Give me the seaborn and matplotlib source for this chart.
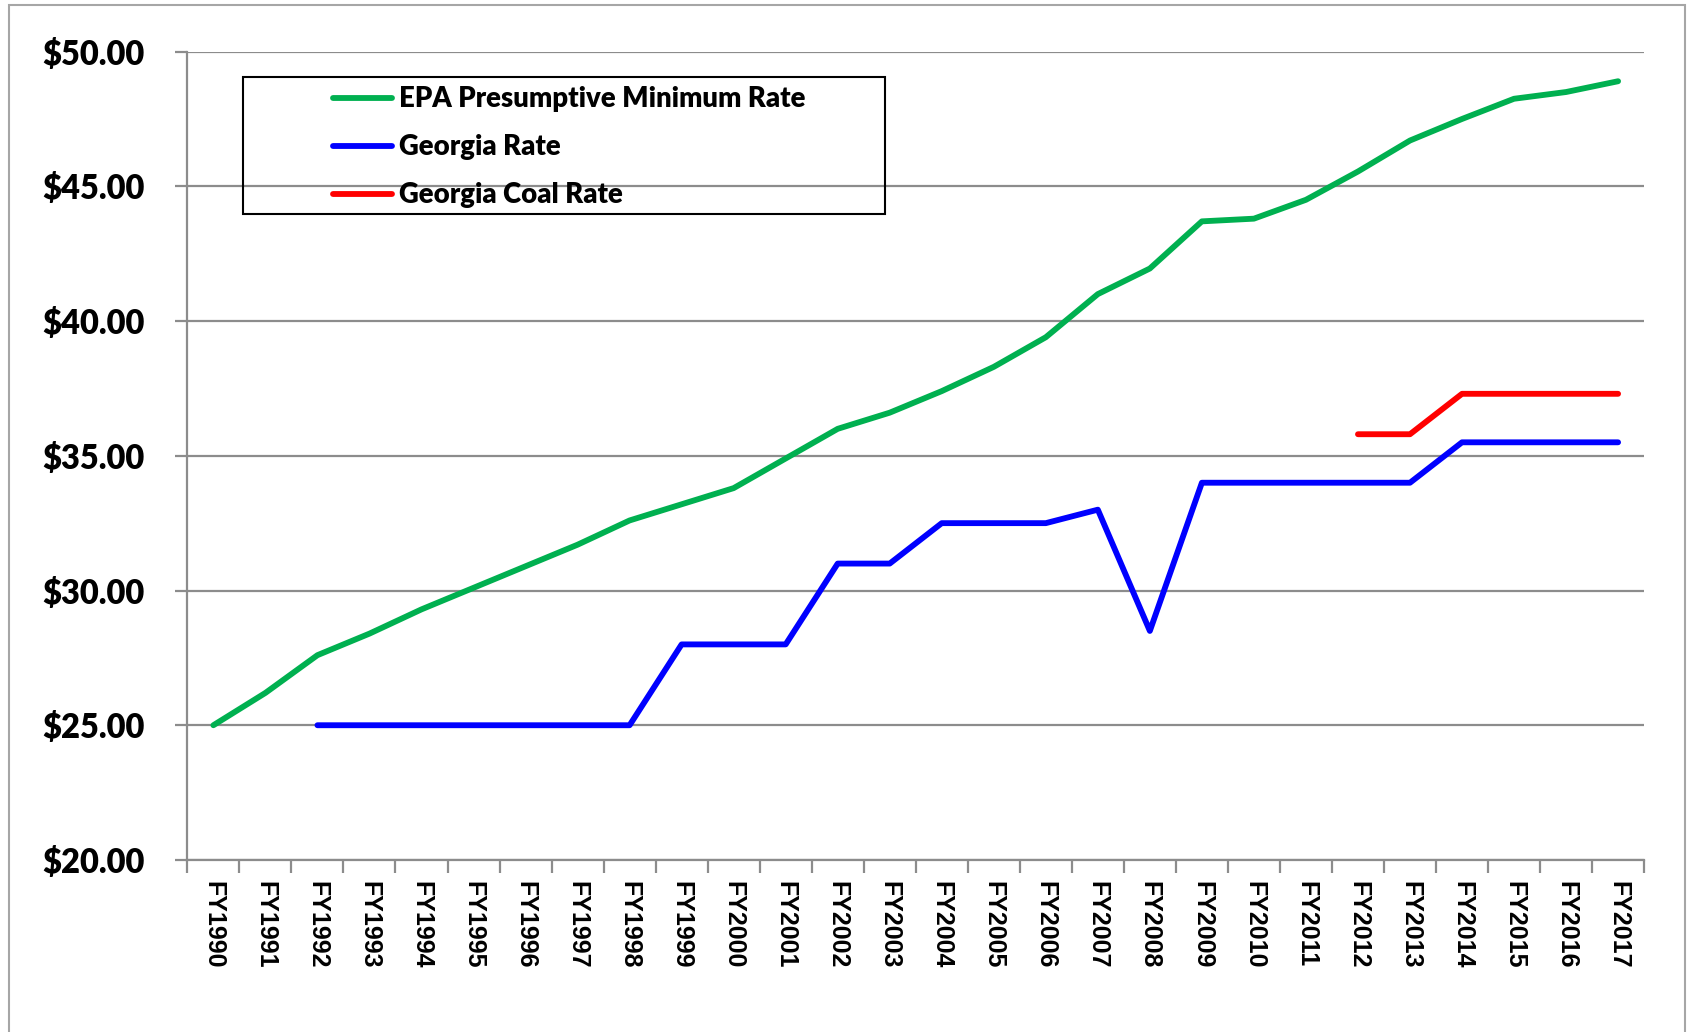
import matplotlib
matplotlib.use("Agg")
import matplotlib.pyplot as plt
from matplotlib.patches import Rectangle
import numpy as np
import pandas as pd
import seaborn as sns

years = [f"FY{y}" for y in range(1990, 2018)]

epa_rate = [25.0, 26.2, 27.6, 28.4, 29.3, 30.1, 30.9, 31.7, 32.6, 33.2,
            33.8, 34.9, 36.0, 36.6, 37.4, 38.3, 39.4, 41.0, 41.95, 43.7,
            43.8, 44.5, 45.55, 46.7, 47.5, 48.25, 48.5, 48.9]
georgia_rate = [np.nan, np.nan, 25.0, 25.0, 25.0, 25.0, 25.0, 25.0, 25.0, 28.0,
                28.0, 28.0, 31.0, 31.0, 32.5, 32.5, 32.5, 33.0, 28.5, 34.0,
                34.0, 34.0, 34.0, 34.0, 35.5, 35.5, 35.5, 35.5]
georgia_coal = [np.nan] * 22 + [35.8, 35.8, 37.3, 37.3, 37.3, 37.3]

series_names = ["EPA Presumptive Minimum Rate", "Georgia Rate", "Georgia Coal Rate"]
series_colors = ["#00B050", "#0000FF", "#FF0000"]

frames = []
for name, vals in zip(series_names, [epa_rate, georgia_rate, georgia_coal]):
    frames.append(pd.DataFrame({"idx": range(len(years)), "rate": vals, "series": name}))
df = pd.concat(frames).dropna()

sns.set_style("white")
plt.rcParams["font.family"] = "Lato"
plt.rcParams["font.weight"] = 800
plt.rcParams["text.color"] = "black"

fig = plt.figure(figsize=(16.88, 10.32), dpi=100)
ax = fig.add_axes([0.111, 0.1667, 0.863, 0.7833])

sns.lineplot(data=df, x="idx", y="rate", hue="series", hue_order=series_names,
             palette=series_colors, linewidth=4.2, ax=ax, legend=True,
             solid_capstyle="round")

ax.set_xlim(-0.5, len(years) - 0.5)
ax.set_ylim(20, 50)
ax.set_yticks(np.arange(20, 51, 5))
ax.set_yticklabels([f"${v:.2f}" for v in np.arange(20, 51, 5)])
ax.yaxis.grid(True, color="#8c8c8c", linewidth=1.6)
ax.set_axisbelow(True)

ax.set_xticks(np.arange(len(years)))
ax.set_xticklabels(years, rotation=270, va="top", ha="center")
ax.tick_params(axis="x", length=0, pad=15, labelsize=18, labelcolor="black",
               labelfontfamily="Liberation Sans")
ax.tick_params(axis="y", length=9, width=1.6, color="#8c8c8c", pad=22,
               direction="out", left=True, labelsize=23.5, labelcolor="black")
ax.set_xticks(np.arange(-0.5, len(years)), minor=True)
ax.tick_params(axis="x", which="minor", length=9, width=1.6, color="#8c8c8c",
               direction="out", bottom=True)
for lbl in ax.get_xticklabels():
    lbl.set_fontweight("bold")
for lbl in ax.get_yticklabels():
    lbl.set_fontweight(800)

ax.set_xlabel("")
ax.set_ylabel("")
for side in ["top", "right"]:
    ax.spines[side].set_visible(False)
for side in ["left", "bottom"]:
    ax.spines[side].set_color("#8c8c8c")
    ax.spines[side].set_linewidth(1.6)

handles, labels = ax.get_legend_handles_labels()
leg = ax.legend(handles, labels, loc="upper left", bbox_to_anchor=(0.0998, 0.957),
                frameon=False, borderpad=0, borderaxespad=0, handlelength=2.15,
                handletextpad=0.25, labelspacing=0.8,
                prop={"family": "Lato", "size": 19.8, "weight": 800})
for t in leg.get_texts():
    t.set_color("black")
ax.add_patch(Rectangle((0.0382, 0.799), 0.4408, 0.169, transform=ax.transAxes,
                       fill=False, edgecolor="black", linewidth=1.5, zorder=5))

fig.patches.append(Rectangle((9 / 1688, -0.01), 1676 / 1688, 1 - 5 / 1032 + 0.01,
                             transform=fig.transFigure, fill=False,
                             edgecolor="#a6a6a6", linewidth=1.5))

fig.savefig("out.png", dpi=100)
